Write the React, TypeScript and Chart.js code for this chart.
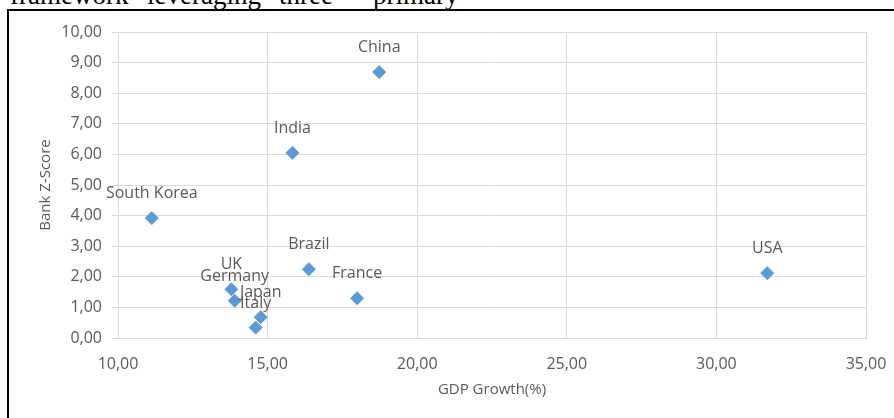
import React, { useEffect, useRef } from "react";
import { Chart, registerables } from "chart.js";

Chart.register(...registerables);

const countries = ["China", "India", "South Korea", "UK", "Germany", "Japan", "Italy", "Brazil", "France", "USA"];
const gdpGrowth = [18.73, 15.83, 11.13, 13.79, 13.9, 14.77, 14.6, 16.38, 17.99, 31.7];
const zScore = [8.69, 6.05, 3.92, 1.59, 1.22, 0.68, 0.34, 2.25, 1.3, 2.12];

const xTitle = "GDP Growth(%)";
const yTitle = "Bank Z-Score";
const topWords = ["framework", "leveraging", "three", "primary"];
const topWordLeft = [10, 147, 279, 373];

const FONT = "'Open Sans', 'Noto Sans', sans-serif";
const TEXT = "#595959";
const GRID = "#d9d9d9";

const fmt = (v: number) => v.toFixed(2).replace(".", ",");

const labelsPlugin = {
  id: "pointLabels",
  afterDatasetsDraw(chart: any) {
    const ctx = chart.ctx;
    const meta = chart.getDatasetMeta(0);
    ctx.save();
    ctx.font = `16px ${FONT}`;
    ctx.fillStyle = TEXT;
    ctx.textAlign = "center";
    ctx.textBaseline = "alphabetic";
    meta.data.forEach((el: any, i: number) => {
      ctx.fillText(countries[i], el.x, el.y - 20);
    });
    ctx.restore();
  },
  afterDraw(chart: any) {
    const ctx = chart.ctx;
    const a = chart.chartArea;
    ctx.save();
    ctx.fillStyle = TEXT;
    ctx.font = `15px ${FONT}`;
    ctx.textAlign = "center";
    ctx.textBaseline = "middle";
    ctx.fillText(xTitle, (a.left + a.right) / 2, a.bottom + 52);
    ctx.translate(46, (a.top + a.bottom) / 2);
    ctx.rotate(-Math.PI / 2);
    ctx.fillText(yTitle, 0, 0);
    ctx.restore();
  },
};

export default function App() {
  const ref = useRef<HTMLCanvasElement | null>(null);
  useEffect(() => {
    if (!ref.current) return;
    const chart = new Chart(ref.current, {
      type: "scatter",
      data: {
        datasets: [
          {
            label: "Countries",
            data: gdpGrowth.map((x, i) => ({ x, y: zScore[i] })),
            backgroundColor: "#5B9BD5",
            borderColor: "#5B9BD5",
            borderWidth: 1,
            pointStyle: "rectRot",
            pointRadius: 6.5,
          },
        ],
      },
      options: {
        responsive: false,
        animation: false,
        devicePixelRatio: 1,
        layout: { padding: { left: 0, top: 32, right: 28, bottom: 0 } },
        plugins: { legend: { display: false }, tooltip: { enabled: false } },
        scales: {
          x: {
            type: "linear",
            min: 10,
            max: 35,
            ticks: {
              stepSize: 5,
              padding: 7,
              color: TEXT,
              font: { family: FONT, size: 16 },
              callback: (v: any) => fmt(Number(v)),
            },
            grid: { color: GRID, drawTicks: true, tickLength: 10, tickColor: "rgba(0,0,0,0)" },
            border: { color: GRID },
            afterFit: (s: any) => {
              s.height = 80;
            },
          },
          y: {
            min: 0,
            max: 10,
            ticks: {
              stepSize: 1,
              padding: 10,
              color: TEXT,
              font: { family: FONT, size: 16 },
              callback: (v: any) => fmt(Number(v)),
            },
            grid: { color: GRID, tickLength: 6 },
            border: { color: GRID },
            afterFit: (s: any) => {
              s.width = 118;
            },
          },
        },
      },
      plugins: [labelsPlugin],
    });
    return () => chart.destroy();
  }, []);

  return (
    <div style={{ position: "fixed", left: 0, top: 0, width: 894, height: 418, overflow: "hidden", background: "#fff" }}>
      {topWords.map((w, i) => (
        <span
          key={w}
          style={{
            position: "absolute",
            left: topWordLeft[i],
            top: -18,
            fontFamily: "'Liberation Serif', serif",
            fontSize: 27,
            lineHeight: "27px",
            color: "#000",
            whiteSpace: "nowrap",
          }}
        >
          {w}
        </span>
      ))}
      <div
        style={{
          position: "absolute",
          left: 7,
          top: 9,
          width: 1000,
          height: 1000,
          borderTop: "2px solid #000",
          borderLeft: "2px solid #000",
          boxSizing: "border-box",
        }}
      />
      <canvas ref={ref} width={894} height={418} style={{ position: "absolute", left: 0, top: 0 }} />
    </div>
  );
}
